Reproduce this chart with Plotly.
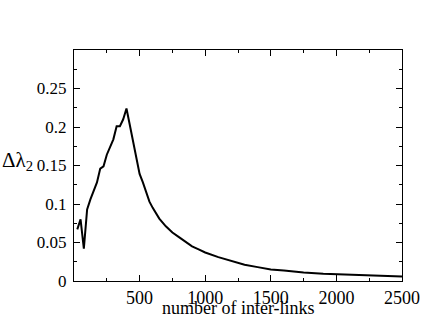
import plotly.graph_objects as go

# number of inter-links vs. delta lambda_2
links = [25, 50, 75, 100, 125, 150, 175, 200, 225, 250, 275, 300, 325, 350,
         375, 400, 425, 450, 475, 500, 525, 550, 575, 600, 625, 650, 700,
         750, 800, 850, 900, 950, 1000, 1100, 1200, 1300, 1400, 1500, 1600,
         1750, 1900, 2000, 2250, 2500]
delta_l2 = [0.067, 0.080, 0.042, 0.093, 0.106, 0.117, 0.128, 0.146, 0.149,
            0.164, 0.174, 0.184, 0.201, 0.201, 0.210, 0.224, 0.203, 0.182,
            0.158, 0.139, 0.128, 0.115, 0.103, 0.095, 0.088, 0.081, 0.071,
            0.063, 0.057, 0.051, 0.045, 0.041, 0.037, 0.031, 0.026, 0.021,
            0.018, 0.015, 0.0135, 0.011, 0.0095, 0.0088, 0.0073, 0.006]

x_ticks = [500, 1000, 1500, 2000, 2500]
y_ticks = [0, 0.05, 0.1, 0.15, 0.2, 0.25]
y_tick_text = ["0", "0.05", "0.1", "0.15", "0.2", "0.25"]

font = "Liberation Serif, Times New Roman, serif"

fig = go.Figure()
fig.add_trace(go.Scatter(x=links, y=delta_l2, mode="lines",
                         line=dict(color="black", width=2)))

axis_common = dict(
    showline=True, linecolor="black", linewidth=1, mirror="allticks",
    ticks="inside", ticklen=6, tickcolor="black", tickwidth=1,
    showgrid=False, zeroline=False, ticklabeloverflow="allow",
)
fig.update_xaxes(range=[0, 2500], tickvals=x_ticks,
                 minor=dict(ticks="inside", ticklen=3, dtick=250, tick0=0,
                            tickcolor="black"),
                 tickfont=dict(family=font, size=18, color="black"),
                 ticklabelstandoff=0, **axis_common)
fig.update_yaxes(range=[0, 0.3], tickvals=y_ticks, ticktext=y_tick_text,
                 minor=dict(ticks="inside", ticklen=3, dtick=0.025, tick0=0,
                            tickcolor="black"),
                 tickfont=dict(family=font, size=17, color="black"),
                 ticklabelstandoff=3, **axis_common)

fig.add_annotation(text="number of inter-links", xref="paper", yref="paper",
                   x=0.5, y=-0.115, yanchor="middle", showarrow=False,
                   font=dict(family=font, size=18, color="black"))
fig.add_annotation(text="Δλ<sub>2</sub>", xref="paper", yref="paper",
                   x=0, y=0.52, xanchor="left", yanchor="middle",
                   xshift=-74, showarrow=False,
                   font=dict(family=font, size=21, color="black"))

fig.update_layout(
    width=432, height=320, showlegend=False,
    margin=dict(l=74, r=22, t=50, b=35),
    plot_bgcolor="white", paper_bgcolor="white",
    font=dict(family=font, color="black"),
)
# drop the page's default body margin so the figure sits at the window corner
fig.write_html("out.html", config={"displayModeBar": False},
               post_script="document.body.style.margin = '0';")
